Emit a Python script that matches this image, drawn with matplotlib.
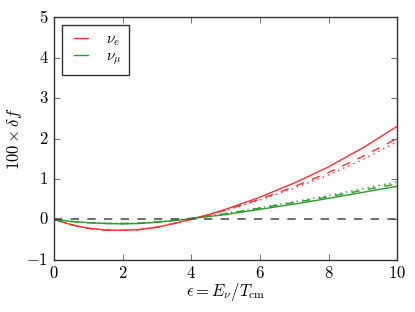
import numpy as np
import matplotlib
matplotlib.use("Agg")
import matplotlib.pyplot as plt

plt.style.use("classic")
plt.rcParams['mathtext.fontset'] = 'cm'
plt.rcParams['font.family'] = 'serif'
plt.rcParams['font.serif'] = ['cmr10', 'DejaVu Serif']
plt.rcParams['axes.formatter.use_mathtext'] = True

x = [0, 0.5, 1, 1.5, 2, 2.5, 3, 3.5, 4, 4.5, 5, 6, 7, 8, 9, 10]
nue_solid = [0, -0.13, -0.22, -0.26, -0.27, -0.25, -0.19, -0.1, 0.01, 0.12, 0.25, 0.55, 0.9, 1.3, 1.77, 2.3]
nue_dash = [0, -0.13, -0.22, -0.26, -0.27, -0.25, -0.19, -0.1, 0.0, 0.11, 0.23, 0.5, 0.81, 1.16, 1.56, 2.0]
nue_dot = [0, -0.13, -0.22, -0.26, -0.27, -0.25, -0.19, -0.1, 0.0, 0.1, 0.22, 0.48, 0.77, 1.1, 1.48, 1.92]
num_solid = [0, -0.05, -0.08, -0.1, -0.11, -0.1, -0.07, -0.03, 0.02, 0.07, 0.12, 0.25, 0.38, 0.52, 0.67, 0.82]
num_dash = [0, -0.05, -0.08, -0.1, -0.1, -0.09, -0.06, -0.02, 0.03, 0.08, 0.14, 0.28, 0.42, 0.56, 0.72, 0.88]
num_dot = [0, -0.05, -0.08, -0.09, -0.1, -0.09, -0.06, -0.02, 0.03, 0.09, 0.15, 0.29, 0.44, 0.59, 0.76, 0.93]

fig = plt.figure(figsize=(4.15, 3.12), dpi=100, facecolor='white')
ax = fig.add_axes([0.130, 0.167, 0.827, 0.778])

red = '#ff3030'
green = '#2a9a2a'
ax.plot(x, nue_solid, '-', color=red, lw=1, label=r'$\nu_e$')
ax.plot(x, nue_dash, '--', color=red, lw=1)
ax.plot(x, nue_dot, ':', color=red, lw=1)
ax.plot(x, num_solid, '-', color=green, lw=1, label=r'$\nu_\mu$')
ax.plot(x, num_dash, '--', color=green, lw=1)
ax.plot(x, num_dot, ':', color=green, lw=1)
ax.axhline(0, color='#555555', ls='--', lw=1.2)

ax.set_xlim(0, 10)
ax.set_ylim(-1, 5)
ax.set_xticks([0, 2, 4, 6, 8, 10])
ax.set_yticks([-1, 0, 1, 2, 3, 4, 5])
ax.tick_params(labelsize=12, direction='in', length=4, top=True, right=True, colors='#333333', labelcolor='black')
for s in ax.spines.values():
    s.set_color('#333333')
ax.set_xlabel(r'$\epsilon = E_\nu/T_{\rm cm}$', fontsize=12, labelpad=0)
ax.set_ylabel(r'$100\times\delta f$', fontsize=12, labelpad=2)
leg = ax.legend(loc='upper left', fontsize=11, frameon=True, handlelength=1.5,
                handletextpad=0.9, borderpad=0.5, labelspacing=0.12, borderaxespad=0.5)
leg.get_frame().set_edgecolor('#333333')
fig.savefig('out.png', dpi=100, facecolor='white')
